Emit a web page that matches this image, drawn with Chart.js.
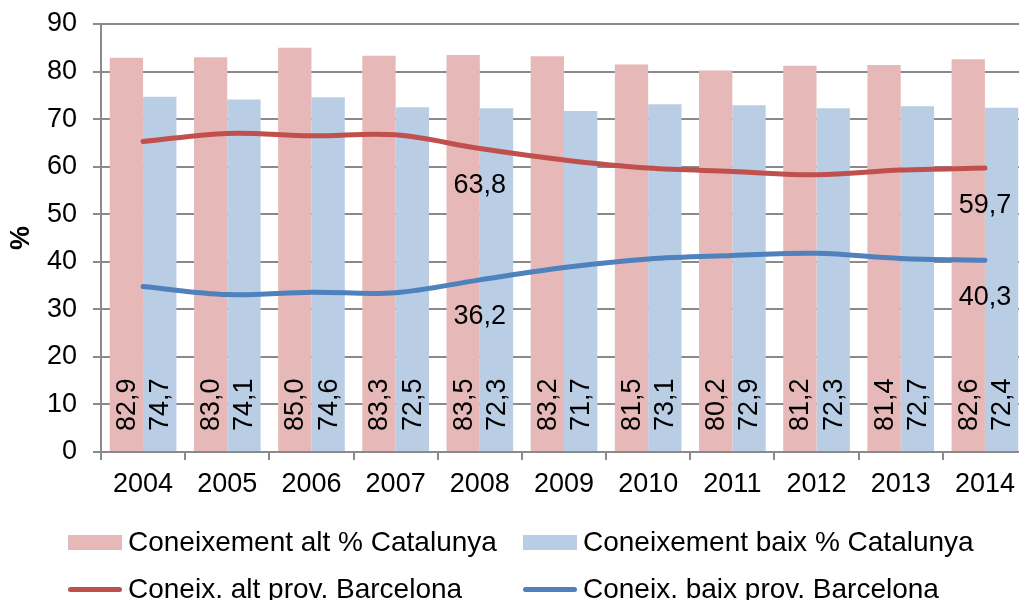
<!DOCTYPE html>
<html>
<head>
<meta charset="utf-8">
<script src="https://cdn.jsdelivr.net/npm/chart.js@4/dist/chart.umd.min.js"></script>
<style>
    body { margin: 0; background: #fff; overflow: hidden; font-family: 'Liberation Sans', Arial, sans-serif; }
    #wrap { position: relative; width: 1027px; height: 600px; }
    .leg { position: absolute; display: flex; align-items: center; font-size: 28px; color: #000; white-space: nowrap; }
    .sw { width: 54px; margin-right: 6px; }
</style>
</head>
<body>
<div id="wrap">
    <canvas id="chart"></canvas>
    <div class="leg" style="left:68px; top:526px; height:32px;"><span class="sw" style="height:15px;background:#E6B9B8"></span>Coneixement alt % Catalunya</div>
    <div class="leg" style="left:523px; top:526px; height:32px;"><span class="sw" style="height:15px;background:#B9CDE5"></span>Coneixement baix % Catalunya</div>
    <div class="leg" style="left:68px; top:573px; height:32px;"><span class="sw" style="height:5px;border-radius:3px;background:#C0504D"></span>Coneix. alt prov. Barcelona</div>
    <div class="leg" style="left:523px; top:573px; height:32px;"><span class="sw" style="height:5px;border-radius:3px;background:#4F81BD"></span>Coneix. baix prov. Barcelona</div>
</div>
<script>
// Data
const years = ['2004', '2005', '2006', '2007', '2008', '2009', '2010', '2011', '2012', '2013', '2014'];
const altCatalunya = [82.9, 83.0, 85.0, 83.3, 83.5, 83.2, 81.5, 80.2, 81.2, 81.4, 82.6];
const baixCatalunya = [74.7, 74.1, 74.6, 72.5, 72.3, 71.7, 73.1, 72.9, 72.3, 72.7, 72.4];
const altBarcelona = [65.3, 67.0, 66.5, 66.7, 63.8, 61.4, 59.7, 59.0, 58.3, 59.3, 59.7];
const baixBarcelona = [34.8, 33.1, 33.6, 33.5, 36.2, 38.8, 40.6, 41.3, 41.8, 40.7, 40.3];
const labeledPoints = [4, 10]; // only 2008 and 2014 carry a label on the lines
const yMin = 0, yMax = 90, yStep = 10;

const FONT = "'Liberation Sans', Arial, sans-serif";
const fmt = v => v.toFixed(1).replace('.', ',');

// value labels: vertical inside bars, horizontal under line points
const labelPlugin = {
    id: 'valueLabels',
    afterDatasetsDraw(chart) {
        const ctx = chart.ctx;
        const bottom = chart.scales.y.getPixelForValue(0);
        ctx.save();
        ctx.fillStyle = '#000';
        ctx.font = `27px ${FONT}`;
        chart.data.datasets.forEach((ds, i) => {
            const meta = chart.getDatasetMeta(i);
            meta.data.forEach((el, idx) => {
                if (ds.type === 'bar') {
                    ctx.save();
                    ctx.translate(el.x, bottom - 21);
                    ctx.rotate(-Math.PI / 2);
                    ctx.textAlign = 'left';
                    ctx.textBaseline = 'middle';
                    ctx.fillText(fmt(ds.data[idx]), 0, 1);
                    ctx.restore();
                } else if (labeledPoints.includes(idx)) {
                    ctx.textAlign = 'center';
                    ctx.textBaseline = 'middle';
                    ctx.fillText(fmt(ds.data[idx]), el.x, el.y + 37);
                }
            });
        });
        ctx.restore();
    }
};

const gridColor = '#8a8a8a';

new Chart(document.getElementById('chart'), {
    data: {
        labels: years,
        datasets: [
            { type: 'line', label: 'Coneix. alt prov. Barcelona', data: altBarcelona, borderColor: '#C0504D', borderWidth: 5, tension: 0.35, pointRadius: 0, borderCapStyle: 'round', order: 0 },
            { type: 'line', label: 'Coneix. baix prov. Barcelona', data: baixBarcelona, borderColor: '#4F81BD', borderWidth: 5, tension: 0.35, pointRadius: 0, borderCapStyle: 'round', order: 0 },
            { type: 'bar', label: 'Coneixement alt % Catalunya', data: altCatalunya, backgroundColor: '#E6B9B8', categoryPercentage: 0.792, barPercentage: 1, order: 1 },
            { type: 'bar', label: 'Coneixement baix % Catalunya', data: baixCatalunya, backgroundColor: '#B9CDE5', categoryPercentage: 0.792, barPercentage: 1, order: 1 }
        ]
    },
    options: {
        responsive: true,
        maintainAspectRatio: false,
        animation: false,
        layout: { padding: { top: 24, left: 0, right: 0, bottom: 0 } },
        plugins: { legend: { display: false }, tooltip: { enabled: false } },
        scales: {
            x: {
                afterFit: s => { s.height = 148; s.paddingLeft = 0; s.paddingRight = 0; },
                grid: { display: true, drawOnChartArea: false, offset: true, tickLength: 8, color: gridColor, lineWidth: 2 },
                border: { color: gridColor, width: 2 },
                ticks: { color: '#000', font: { family: FONT, size: 27 }, padding: 8, maxRotation: 0 }
            },
            y: {
                min: yMin, max: yMax,
                afterFit: s => { s.width = 101; s.paddingTop = 0; s.paddingBottom = 0; },
                grid: { color: gridColor, lineWidth: 2, tickLength: 8 },
                border: { color: gridColor, width: 2 },
                ticks: { stepSize: yStep, color: '#000', font: { family: FONT, size: 27 }, padding: 16 },
                title: { display: true, text: '%', color: '#000', font: { family: FONT, size: 27, weight: 'bold' }, padding: { top: 5 } }
            }
        }
    },
    plugins: [labelPlugin]
});
</script>
</body>
</html>
